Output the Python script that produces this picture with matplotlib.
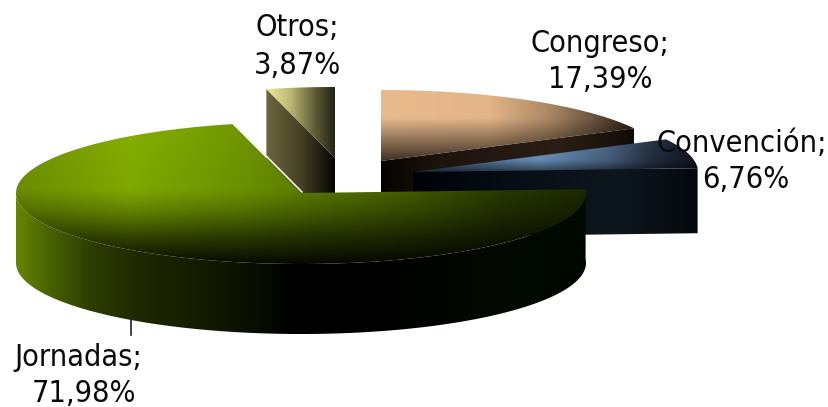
import numpy as np
import matplotlib
matplotlib.use("Agg")
import matplotlib.pyplot as plt
from matplotlib.patches import Polygon

names = ["Congreso", "Convención", "Jornadas", "Otros"]
shares = [17.39, 6.76, 71.98, 3.87]

W, H = 829, 407
RX, RY = 285.0, 71.0
fig = plt.figure(figsize=(W / 100, H / 100), dpi=100)
ax = fig.add_axes([0, 0, 1, 1])
ax.set_xlim(0, W)
ax.set_ylim(H, 0)
ax.axis("off")

# slice angles, clockwise from 12 o'clock
edges = np.concatenate([[0], np.cumsum(shares)]) * 3.6
span = {n: (edges[i], edges[i + 1]) for i, n in enumerate(names)}
centre = {"Congreso": (381, 161), "Convención": (413, 172),
          "Jornadas": (301, 193), "Otros": (335, 158)}
depth = {"Congreso": 70, "Convención": 65, "Jornadas": 70, "Otros": 70}


def rim(name, a, dz=0):
    cx, cy = centre[name]
    a = np.radians(a)
    return np.column_stack([cx + RX * np.sin(a), cy - RY * np.cos(a) + dz])


def arc(name, a0, a1, dz=0):
    return rim(name, np.linspace(a0, a1, 160), dz)


xx = np.arange(W) + 0.5
yy = np.arange(H) + 0.5


def paint(poly, xstops, ystops=None, z=1):
    """Fill a polygon with a colour ramp along x, dimmed by a ramp along y."""
    xs = [s[0] for s in xstops]
    row = np.stack([np.interp(xx, xs, [s[1][k] for s in xstops]) for k in range(3)], axis=1)
    fy = np.ones(H) if ystops is None else np.interp(yy, [s[0] for s in ystops], [s[1] for s in ystops])
    img = (row[None, :, :] * fy[:, None, None]) / 255.0
    patch = Polygon(poly, closed=True, fc="none", ec="none", transform=ax.transData)
    ax.add_patch(patch)
    im = ax.imshow(np.clip(img, 0, 1), extent=(0, W, H, 0), aspect="auto",
                   interpolation="bilinear", zorder=z)
    im.set_clip_path(patch)


def radial_face(name, a):
    c = np.array(centre[name], float)
    r = rim(name, a)[0]
    d = np.array([0, depth[name]])
    return np.array([c, r, r + d, c + d])


def wedge(name):
    a0, a1 = span[name]
    return np.vstack([[centre[name]], arc(name, a0, a1)])


# Otros
a0, a1 = span["Otros"]
paint(radial_face("Otros", a0),
      [(266, (108, 102, 62)), (300, (70, 66, 38)), (335, (4, 4, 0))], z=1)
paint(wedge("Otros"),
      [(266, (240, 236, 150)), (290, (190, 185, 115)), (315, (95, 92, 55)), (335, (35, 35, 22))], z=2)

# Congreso
a0, a1 = span["Congreso"]
paint(radial_face("Congreso", a1),
      [(381, (4, 2, 0)), (440, (30, 20, 14)), (560, (42, 30, 22)), (634, (18, 12, 6))], z=3)
paint(wedge("Congreso"),
      [(381, (232, 186, 140)), (490, (226, 180, 135)), (550, (170, 135, 100)),
       (595, (105, 82, 60)), (634, (40, 30, 20))],
      [(85, 1), (118, 1), (140, 0.62), (163, 0.22)], z=4)

# Convención
a0, a1 = span["Convención"]
paint(radial_face("Convención", a1),
      [(413, (0, 2, 8)), (520, (8, 14, 22)), (620, (14, 22, 30)), (698, (4, 8, 12))], z=5)
paint(wedge("Convención"),
      [(413, (60, 90, 120)), (540, (112, 154, 198)), (610, (74, 100, 130)),
       (650, (38, 52, 70)), (698, (14, 20, 30))],
      [(140, 1), (160, 0.9), (172, 0.4)], z=6)

# Jornadas
a0, a1 = span["Jornadas"]
side = np.vstack([arc("Jornadas", a0, 270), arc("Jornadas", 270, a0, depth["Jornadas"])])
paint(side,
      [(16, (104, 134, 0)), (50, (72, 98, 0)), (90, (46, 62, 0)), (140, (30, 40, 0)),
       (200, (20, 28, 0)), (270, (4, 10, 0)), (285, (0, 0, 0)), (400, (0, 2, 0)),
       (500, (4, 10, 0)), (586, (0, 8, 0))], z=7)
paint(wedge("Jornadas"),
      [(16, (112, 146, 0)), (130, (134, 176, 0)), (240, (112, 152, 0)), (320, (92, 124, 0)),
       (420, (68, 92, 0)), (500, (44, 60, 0)), (586, (30, 42, 0))],
      [(120, 1), (190, 0.95), (212, 0.72), (238, 0.36), (265, 0.05)], z=8)

# thin light seam along the cut edge of the large slice
seam = np.vstack([rim("Jornadas", a1), [centre["Jornadas"]]])
ax.plot(seam[:, 0] + 1, seam[:, 1] - 1, color="white", lw=1.1, zorder=7.5)

# leader line
ax.plot([131, 131], [318, 335], color="#202020", lw=1.2, zorder=9)

label_pos = {"Congreso": ((599.5, 43), (600, 79)),
             "Convención": ((742, 143), (746, 179)),
             "Jornadas": ((78, 357), (84, 393)),
             "Otros": ((297, 27), (298, 65))}
for n, v in zip(names, shares):
    p0, p1 = label_pos[n]
    pct = f"{v:.2f}".replace(".", ",") + "%"
    for p, s in ((p0, n + ";"), (p1, pct)):
        ax.text(*p, s, ha="center", va="center", fontsize=22, family="DejaVu Sans",
                stretch="condensed", color="#0a0a0a", zorder=20)

fig.savefig("out.png", dpi=100, facecolor="white")
